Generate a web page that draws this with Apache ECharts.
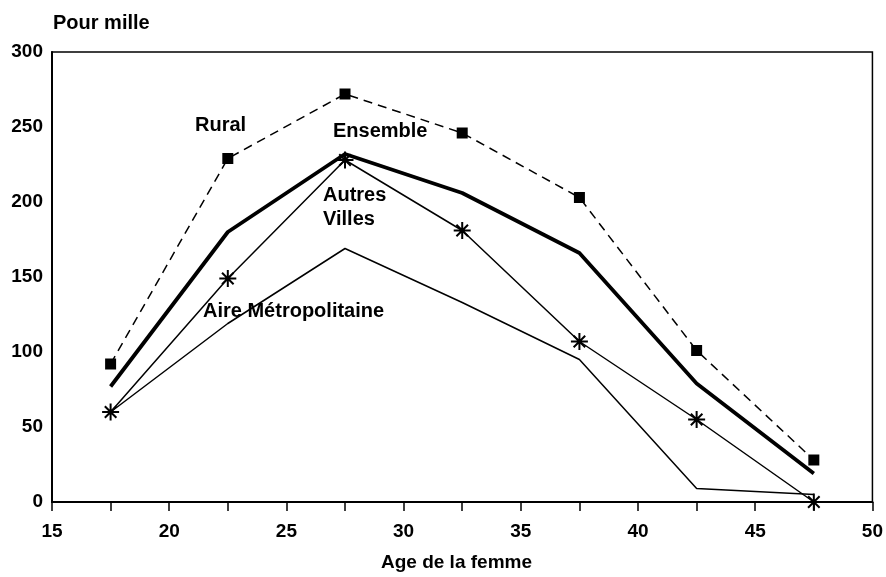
<!DOCTYPE html>
<html>
<head>
<meta charset="utf-8">
<script src="https://cdn.jsdelivr.net/npm/echarts@6/dist/echarts.min.js"></script>
<style>
html,body{margin:0;padding:0;background:#fff;}
#chart{width:886px;height:577px;}
</style>
</head>
<body>
<div id="chart"></div>
<script>
var ages = [17.5, 22.5, 27.5, 32.5, 37.5, 42.5, 47.5];
var rural = [92, 229, 272, 246, 203, 101, 28];
var ensemble = [77, 180, 232, 206, 166, 79, 19];
var autresVilles = [60, 149, 228, 181, 107, 55, 0];
var aireMetro = [60, 119, 169, 133, 95, 9, 5];
var yTicks = [0, 50, 100, 150, 200, 250, 300];
var xTicks = [15, 20, 25, 30, 35, 40, 45, 50];

function pairs(ys){ return ages.map(function(a,i){ return [a, ys[i]]; }); }

var FONT = 'Liberation Sans';
var asterisk = 'path://M0,5L10,5M5,0L5,10M1.6,1.6L8.4,8.4M1.6,8.4L8.4,1.6';

var chart = echarts.init(document.getElementById('chart'));
chart.setOption({
  animation: false,
  backgroundColor: '#fff',
  grid: {left: 52, right: 11, top: 52, bottom: 75, show: true, borderColor: '#000', borderWidth: 1.5},
  xAxis: {
    type: 'value', min: 15, max: 50, interval: 2.5,
    axisLine: {show: true, lineStyle: {color: '#000', width: 2}},
    axisTick: {show: true, length: 9, lineStyle: {color: '#000', width: 1.5}},
    axisLabel: {margin: 20, color: '#000', fontFamily: FONT, fontSize: 19, fontWeight: 'bold',
      formatter: function(v){ return xTicks.indexOf(v) >= 0 ? String(v) : ''; }},
    splitLine: {show: false}
  },
  yAxis: {
    type: 'value', min: 0, max: 300, interval: 50,
    axisLine: {show: true, lineStyle: {color: '#000', width: 2}},
    axisTick: {show: false},
    axisLabel: {margin: 9, color: '#000', fontFamily: FONT, fontSize: 19, fontWeight: 'bold',
      formatter: function(v){ return yTicks.indexOf(v) >= 0 ? String(v) : ''; }},
    splitLine: {show: false}
  },
  graphic: [
    {type: 'text', left: 53, top: 13, style: {text: 'Pour mille', fill: '#000', font: 'bold 20px ' + FONT}},
    {type: 'text', left: 381, top: 553, style: {text: 'Age de la femme', fill: '#000', font: 'bold 19px ' + FONT}},
    {type: 'text', left: 195, top: 115, style: {text: 'Rural', fill: '#000', font: 'bold 20px ' + FONT}},
    {type: 'text', left: 333, top: 121, style: {text: 'Ensemble', fill: '#000', font: 'bold 20px ' + FONT}},
    {type: 'text', left: 323, top: 185, style: {text: 'Autres', fill: '#000', font: 'bold 20px ' + FONT}},
    {type: 'text', left: 323, top: 209, style: {text: 'Villes', fill: '#000', font: 'bold 20px ' + FONT}},
    {type: 'text', left: 203, top: 301, style: {text: 'Aire Métropolitaine', fill: '#000', font: 'bold 20px ' + FONT}}
  ],
  series: [
    {name: 'Aire Métropolitaine', type: 'line', data: pairs(aireMetro), showSymbol: false, symbol: 'none',
      lineStyle: {color: '#000', width: 1.5}, clip: false},
    {name: 'Autres Villes', type: 'line', data: pairs(autresVilles), symbol: asterisk, symbolSize: 17,
      itemStyle: {color: 'rgba(0,0,0,0)', borderColor: '#000', borderWidth: 2},
      lineStyle: {color: '#000', width: 1.5}, clip: false},
    {name: 'Ensemble', type: 'line', data: pairs(ensemble), symbol: 'none',
      lineStyle: {color: '#000', width: 3.8}, clip: false},
    {name: 'Rural', type: 'line', data: pairs(rural), symbol: 'rect', symbolSize: 11,
      itemStyle: {color: '#000'},
      lineStyle: {color: '#000', width: 1.5, type: [9, 6]}, clip: false}
  ]
});
</script>
</body>
</html>
